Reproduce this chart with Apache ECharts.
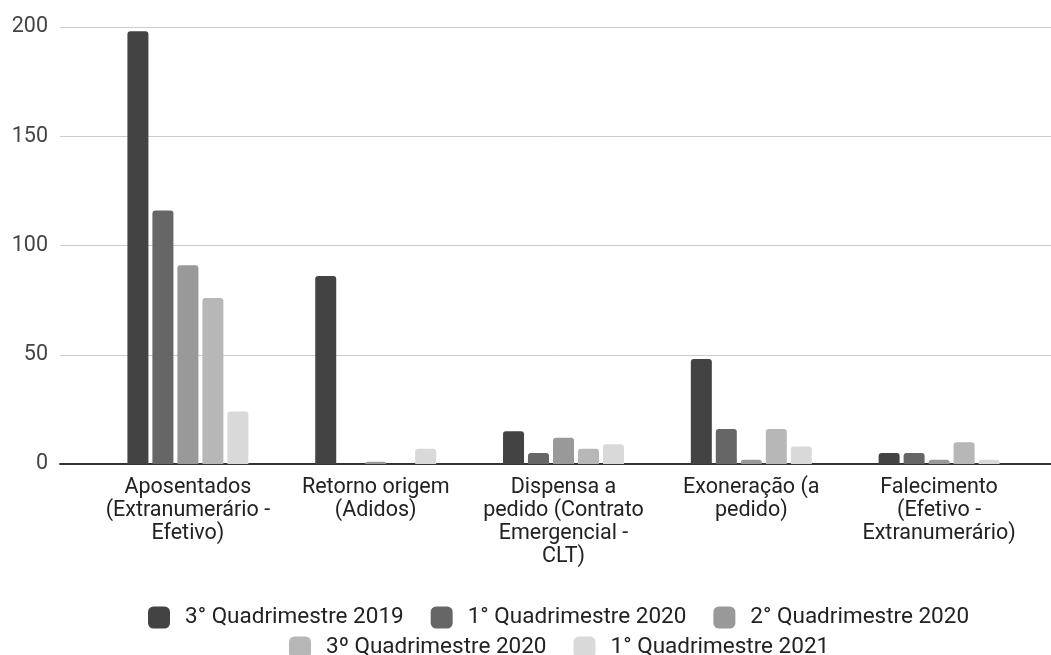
<!DOCTYPE html>
<html>
<head>
<meta charset="utf-8">
<title>Desligamentos por motivo</title>
<script src="https://cdn.jsdelivr.net/npm/echarts@6/dist/echarts.min.js"></script>
<style>
  html, body { margin: 0; padding: 0; background: #ffffff; }
  #chart { width: 1051px; height: 655px; }
</style>
</head>
<body>
<div id="chart"></div>
<script>
// Motivos de desligamento
const categories = [
  'Aposentados (Extranumerário - Efetivo)',
  'Retorno origem (Adidos)',
  'Dispensa a pedido (Contrato Emergencial - CLT)',
  'Exoneração (a pedido)',
  'Falecimento (Efetivo - Extranumerário)'
];
// Rótulos do eixo, quebrados em linhas
const categoryLabels = [
  'Aposentados\n(Extranumerário -\nEfetivo)',
  'Retorno origem\n(Adidos)',
  'Dispensa a\npedido (Contrato\nEmergencial -\nCLT)',
  'Exoneração (a\npedido)',
  'Falecimento\n(Efetivo -\nExtranumerário)'
];

const seriesNames = [
  '3° Quadrimestre 2019',
  '1° Quadrimestre 2020',
  '2° Quadrimestre 2020',
  '3º Quadrimestre 2020',
  '1° Quadrimestre 2021'
];

const q3_2019 = [198, 86, 15, 48, 5];
const q1_2020 = [116, 0, 5, 16, 5];
const q2_2020 = [91, 1, 12, 2, 2];
const q3_2020 = [76, 0, 7, 16, 10];
const q1_2021 = [24, 7, 9, 8, 2];

const yTicks = [0, 50, 100, 150, 200];

const colors = ['#434343', '#666666', '#999999', '#b7b7b7', '#d9d9d9'];
const seriesData = [q3_2019, q1_2020, q2_2020, q3_2020, q1_2021];

const font = 'Roboto, "Liberation Sans", Arial, sans-serif';

const chart = echarts.init(document.getElementById('chart'), null, { renderer: 'canvas' });

const legendCommon = {
  orient: 'horizontal',
  itemWidth: 22,
  itemHeight: 22,
  itemGap: 27,
  icon: 'roundRect',
  textStyle: {
    fontFamily: font,
    fontSize: 22.5,
    color: '#222222',
    padding: [0, 0, 0, 10],
    lineHeight: 22
  },
  selectedMode: false
};

const option = {
  backgroundColor: '#ffffff',
  animation: false,
  color: colors,
  textStyle: { fontFamily: font },
  legend: [
    Object.assign({}, legendCommon, { left: 143, top: 601, data: seriesNames.slice(0, 3) }),
    Object.assign({}, legendCommon, { left: 284, top: 631, data: seriesNames.slice(3) })
  ],
  grid: [
    // full-width area for the value axis, gridlines and baseline
    { left: 60, right: 0, top: 27, bottom: 191, containLabel: false },
    // inset area holding the bar groups
    { left: 94, right: 18, top: 27, bottom: 191, containLabel: false }
  ],
  xAxis: [
    {
      gridIndex: 0,
      type: 'category',
      data: [''],
      axisLine: { show: true, lineStyle: { color: '#333333', width: 2 } },
      axisTick: { show: false },
      axisLabel: { show: false },
      splitLine: { show: false }
    },
    {
      gridIndex: 1,
      type: 'category',
      data: categories,
      axisLine: { show: false },
      axisTick: { show: false },
      axisLabel: {
        interval: 0,
        margin: 12,
        fontFamily: font,
        fontSize: 21.5,
        lineHeight: 23,
        color: '#222222',
        formatter: (v, i) => categoryLabels[i]
      }
    }
  ],
  yAxis: [
    {
      gridIndex: 0,
      type: 'value',
      min: yTicks[0],
      max: yTicks[yTicks.length - 1],
      interval: 50,
      axisLine: { show: false },
      axisTick: { show: false },
      axisLabel: {
        margin: 12,
        fontFamily: font,
        fontSize: 21.5,
        color: '#444444'
      },
      splitLine: { show: true, lineStyle: { color: '#cccccc', width: 1 } }
    },
    {
      gridIndex: 1,
      type: 'value',
      min: yTicks[0],
      max: yTicks[yTicks.length - 1],
      interval: 50,
      show: false,
      splitLine: { show: false }
    }
  ],
  series: seriesNames.map((name, i) => ({
    name: name,
    type: 'bar',
    xAxisIndex: 1,
    yAxisIndex: 1,
    data: seriesData[i],
    barWidth: 21,
    barGap: '19%',
    itemStyle: { color: colors[i], borderRadius: [3, 3, 0, 0] },
    z: 1
  }))
};

chart.setOption(option);
</script>
</body>
</html>
